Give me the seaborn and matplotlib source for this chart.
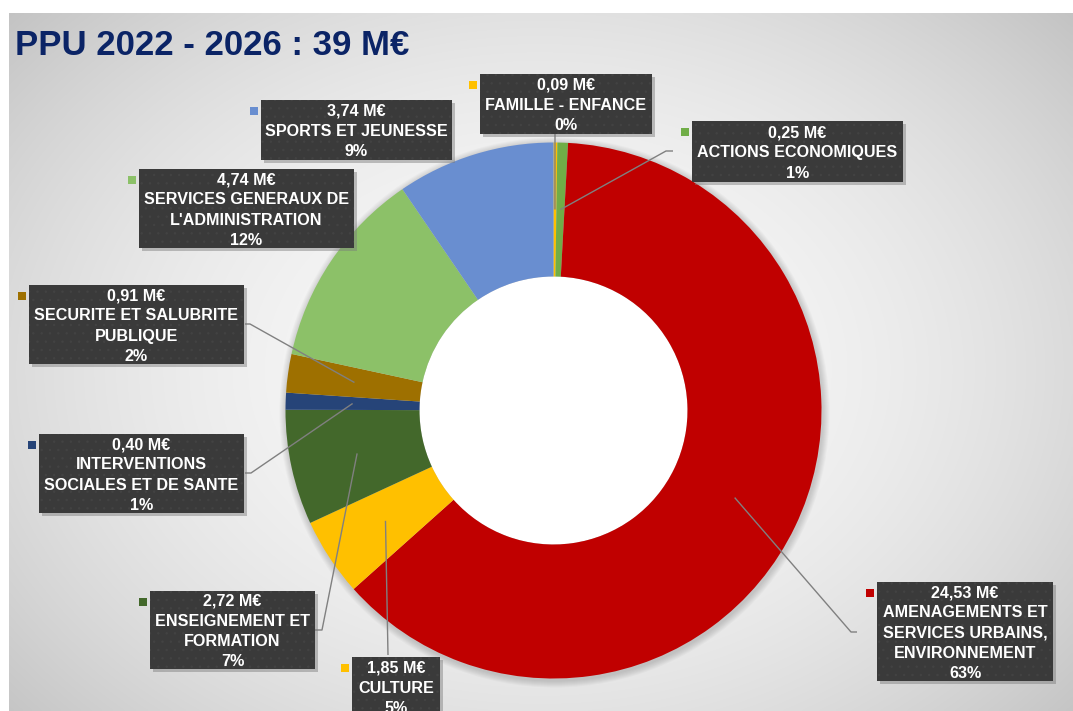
"""
PPU 2022 - 2026 : répartition par fonction (anneau avec étiquettes encadrées)
"""

import numpy as np
import matplotlib.pyplot as plt
import matplotlib.patches as mpatches
import seaborn as sns

# Données (M€), dans l'ordre des secteurs (sens horaire depuis midi)
categories = ["FAMILLE - ENFANCE", "ACTIONS ECONOMIQUES",
              "AMENAGEMENTS ET\nSERVICES URBAINS,\nENVIRONNEMENT", "CULTURE",
              "ENSEIGNEMENT ET\nFORMATION", "INTERVENTIONS\nSOCIALES ET DE SANTE",
              "SECURITE ET SALUBRITE\nPUBLIQUE", "SERVICES GENERAUX DE\nL'ADMINISTRATION",
              "SPORTS ET JEUNESSE"]
montants = [0.09, 0.25, 24.53, 1.85, 2.72, 0.40, 0.91, 4.74, 3.74]
pourcentages = ["0%", "1%", "63%", "5%", "7%", "1%", "2%", "12%", "9%"]
couleurs = ["#FFC000", "#70AD47", "#C00000", "#FFC000", "#43682B",
            "#264478", "#9E7000", "#8CC168", "#698ED0"]
titre = "PPU 2022 - 2026 : 39 M€"

# Mise en page (pixels de l'image, y depuis le haut)
W, H = 1073, 711
cx, cy, R = 553.5, 410.5, 268
boites = [(480, 74, 172, 60), (692, 121, 211, 61), (877, 582, 176, 99),
          (352, 657, 88, 60), (150, 591, 165, 78), (39, 434, 205, 79),
          (29, 285, 215, 79), (139, 169, 215, 79), (261, 100, 191, 60)]
liens = [[(555, 134)], [(673, 151), (666, 151)], [(857, 632), (851, 632)],
         [(388, 655)], [(315, 630), (322, 630)], [(245, 473), (251, 473)],
         [(245, 324), (250, 324)], None, None]


def py(y):
    return H - y


sns.set_theme(style="white")
plt.rcParams['font.family'] = ['Liberation Sans', 'DejaVu Sans']
plt.rcParams['hatch.linewidth'] = 0.5

fig = plt.figure(figsize=(W / 100, H / 100), dpi=100, facecolor="white")
ax = fig.add_axes([0, 0, 1, 1])
ax.set_facecolor("none")

# Fond gris en dégradé radial
xs = np.linspace(9, W, 400)
ys = np.linspace(13, H, 300)
gx, gy = np.meshgrid(xs, ys)
d2 = ((gx - 540) / 560) ** 2 + ((gy - 370) / 420) ** 2
fond = np.clip(249 - 33 * d2, 185, 251) / 255
ax.imshow(np.dstack([fond, fond, fond]), extent=(9, W, py(H), py(13)),
          origin="upper", aspect="auto", zorder=0, interpolation="bilinear")

# Ombre douce autour de l'anneau
for k in range(7):
    ax.add_patch(mpatches.Circle((cx + 1, py(cy) - 2), R + 1 + k, color="black",
                                 alpha=0.025, lw=0, zorder=1))
ax.add_patch(mpatches.Circle((cx, py(cy)), R * 0.5, color="white", lw=0, zorder=1.5))

wedges, _ = ax.pie(montants, colors=couleurs, startangle=90, counterclock=False,
                   radius=R, center=(cx, py(cy)),
                   wedgeprops=dict(width=R * 0.5, linewidth=0))
for w in wedges:
    w.set_zorder(2)

# Étiquettes
for i, (nom, val, pct) in enumerate(zip(categories, montants, pourcentages)):
    x0, y0, bw, bh = boites[i]
    # ombre de la boîte
    ax.add_patch(mpatches.Rectangle((x0 + 3, py(y0 + bh) - 3), bw, bh,
                                    facecolor="#7a7a7a", alpha=0.45, lw=0, zorder=4))
    ax.add_patch(mpatches.Rectangle((x0, py(y0 + bh)), bw, bh, facecolor="#3a3a3a",
                                    edgecolor="#434343", hatch="..", lw=0, zorder=5))
    txt = f"{val:.2f}".replace(".", ",") + " M€\n" + nom + "\n" + pct
    ax.text(x0 + bw / 2, py(y0 + bh / 2 + 1.5), txt, ha="center", va="center",
            ma="center", color="white", fontsize=11.6, fontweight="bold",
            linespacing=1.43, zorder=6)
    ax.add_patch(mpatches.Rectangle((x0 - 11, py(y0 + 15)), 8, 8,
                                    facecolor=couleurs[i], lw=0, zorder=6))

    # ligne de rappel vers le milieu de l'anneau
    if liens[i] is not None:
        w = wedges[i]
        mid = np.deg2rad((w.theta1 + w.theta2) / 2)
        ax_x = cx + 0.75 * R * np.cos(mid)
        ax_y = py(cy) + 0.75 * R * np.sin(mid)
        pts = [(p[0], py(p[1])) for p in liens[i]] + [(ax_x, ax_y)]
        ax.plot([p[0] for p in pts], [p[1] for p in pts], color="#808080",
                lw=1, zorder=3, solid_capstyle="butt")

# Titre
ax.text(15, py(55), titre, fontsize=25, fontweight="bold", color="#0B2466",
        ha="left", va="baseline", zorder=6)

ax.set_xlim(0, W)
ax.set_ylim(0, H)
ax.set_aspect("equal")
ax.axis("off")

plt.savefig("out.png", dpi=100, facecolor="white")
